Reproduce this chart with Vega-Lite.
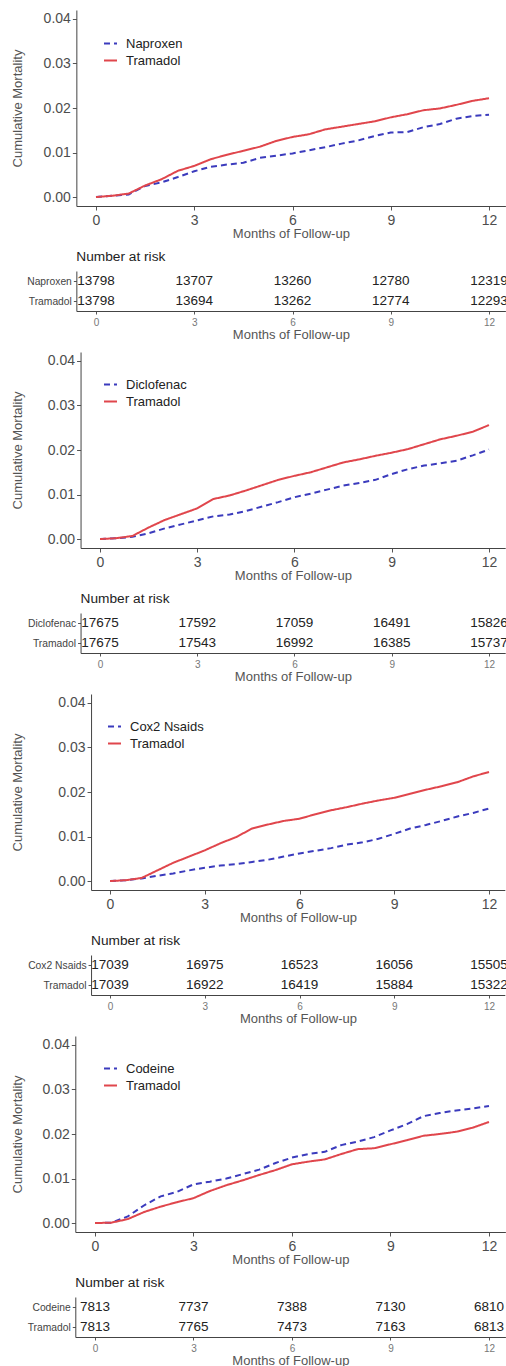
{
"$schema": "https://vega.github.io/schema/vega-lite/v6.json",
"padding": {"left": 10, "top": 10, "right": 0, "bottom": 0},
"spacing": 10,
"resolve": {"scale": {"color": "independent", "strokeDash": "independent"}},
"config": {
  "font": "Liberation Sans",
  "view": {"stroke": null},
  "axis": {"grid": false, "domainColor": "#444", "domainWidth": 1, "tickColor": "#555", "labelColor": "#4d4d4d", "titleColor": "#555", "titleFontWeight": "normal", "titleFontSize": 13, "labelFlush": false, "labelOverlap": false},
  "title": {"fontWeight": "normal", "fontSize": 13.7, "color": "#222", "anchor": "start", "frame": "group", "baseline": "bottom", "offset": 7},
  "legend": {"orient": "none", "title": null, "symbolType": "stroke", "symbolSize": 169, "symbolStrokeWidth": 2, "labelFontSize": 13, "labelColor": "#222", "labelOffset": 8, "rowPadding": 2, "padding": 0}
},
"datasets": {
  "curves": [
    {"p":1,"g":"Naproxen","t":0,"v":0},{"p":1,"g":"Naproxen","t":0.5,"v":0.0003},{"p":1,"g":"Naproxen","t":1,"v":0.0006},{"p":1,"g":"Naproxen","t":1.5,"v":0.0025},{"p":1,"g":"Naproxen","t":2,"v":0.0033},{"p":1,"g":"Naproxen","t":2.5,"v":0.0045},{"p":1,"g":"Naproxen","t":3,"v":0.0058},{"p":1,"g":"Naproxen","t":3.5,"v":0.0068},{"p":1,"g":"Naproxen","t":4,"v":0.0073},{"p":1,"g":"Naproxen","t":4.5,"v":0.0077},{"p":1,"g":"Naproxen","t":5,"v":0.0088},{"p":1,"g":"Naproxen","t":5.5,"v":0.0093},{"p":1,"g":"Naproxen","t":6,"v":0.0098},{"p":1,"g":"Naproxen","t":6.5,"v":0.0105},{"p":1,"g":"Naproxen","t":7,"v":0.0112},{"p":1,"g":"Naproxen","t":7.5,"v":0.012},{"p":1,"g":"Naproxen","t":8,"v":0.0127},{"p":1,"g":"Naproxen","t":8.5,"v":0.0137},{"p":1,"g":"Naproxen","t":9,"v":0.0145},{"p":1,"g":"Naproxen","t":9.5,"v":0.0146},{"p":1,"g":"Naproxen","t":10,"v":0.0157},{"p":1,"g":"Naproxen","t":10.5,"v":0.0164},{"p":1,"g":"Naproxen","t":11,"v":0.0176},{"p":1,"g":"Naproxen","t":11.5,"v":0.0182},{"p":1,"g":"Naproxen","t":12,"v":0.0185},
    {"p":1,"g":"Tramadol","t":0,"v":0},{"p":1,"g":"Tramadol","t":0.5,"v":0.0003},{"p":1,"g":"Tramadol","t":1,"v":0.0008},{"p":1,"g":"Tramadol","t":1.5,"v":0.0026},{"p":1,"g":"Tramadol","t":2,"v":0.004},{"p":1,"g":"Tramadol","t":2.5,"v":0.0059},{"p":1,"g":"Tramadol","t":3,"v":0.007},{"p":1,"g":"Tramadol","t":3.5,"v":0.0085},{"p":1,"g":"Tramadol","t":4,"v":0.0095},{"p":1,"g":"Tramadol","t":4.5,"v":0.0104},{"p":1,"g":"Tramadol","t":5,"v":0.0113},{"p":1,"g":"Tramadol","t":5.5,"v":0.0126},{"p":1,"g":"Tramadol","t":6,"v":0.0135},{"p":1,"g":"Tramadol","t":6.5,"v":0.0141},{"p":1,"g":"Tramadol","t":7,"v":0.0152},{"p":1,"g":"Tramadol","t":7.5,"v":0.0158},{"p":1,"g":"Tramadol","t":8,"v":0.0164},{"p":1,"g":"Tramadol","t":8.5,"v":0.017},{"p":1,"g":"Tramadol","t":9,"v":0.0179},{"p":1,"g":"Tramadol","t":9.5,"v":0.0186},{"p":1,"g":"Tramadol","t":10,"v":0.0195},{"p":1,"g":"Tramadol","t":10.5,"v":0.0199},{"p":1,"g":"Tramadol","t":11,"v":0.0207},{"p":1,"g":"Tramadol","t":11.5,"v":0.0216},{"p":1,"g":"Tramadol","t":12,"v":0.0222},
    {"p":2,"g":"Diclofenac","t":0,"v":0},{"p":2,"g":"Diclofenac","t":0.5,"v":0.0002},{"p":2,"g":"Diclofenac","t":1,"v":0.0005},{"p":2,"g":"Diclofenac","t":1.5,"v":0.0013},{"p":2,"g":"Diclofenac","t":2,"v":0.0024},{"p":2,"g":"Diclofenac","t":2.5,"v":0.0033},{"p":2,"g":"Diclofenac","t":3,"v":0.0042},{"p":2,"g":"Diclofenac","t":3.5,"v":0.0051},{"p":2,"g":"Diclofenac","t":4,"v":0.0055},{"p":2,"g":"Diclofenac","t":4.5,"v":0.0063},{"p":2,"g":"Diclofenac","t":5,"v":0.0073},{"p":2,"g":"Diclofenac","t":5.5,"v":0.0083},{"p":2,"g":"Diclofenac","t":6,"v":0.0094},{"p":2,"g":"Diclofenac","t":6.5,"v":0.0102},{"p":2,"g":"Diclofenac","t":7,"v":0.0111},{"p":2,"g":"Diclofenac","t":7.5,"v":0.012},{"p":2,"g":"Diclofenac","t":8,"v":0.0126},{"p":2,"g":"Diclofenac","t":8.5,"v":0.0133},{"p":2,"g":"Diclofenac","t":9,"v":0.0146},{"p":2,"g":"Diclofenac","t":9.5,"v":0.0157},{"p":2,"g":"Diclofenac","t":10,"v":0.0165},{"p":2,"g":"Diclofenac","t":10.5,"v":0.017},{"p":2,"g":"Diclofenac","t":11,"v":0.0176},{"p":2,"g":"Diclofenac","t":11.5,"v":0.0188},{"p":2,"g":"Diclofenac","t":12,"v":0.0201},
    {"p":2,"g":"Tramadol","t":0,"v":0},{"p":2,"g":"Tramadol","t":0.5,"v":0.0002},{"p":2,"g":"Tramadol","t":1,"v":0.0007},{"p":2,"g":"Tramadol","t":1.5,"v":0.0026},{"p":2,"g":"Tramadol","t":2,"v":0.0043},{"p":2,"g":"Tramadol","t":2.5,"v":0.0056},{"p":2,"g":"Tramadol","t":3,"v":0.0069},{"p":2,"g":"Tramadol","t":3.5,"v":0.009},{"p":2,"g":"Tramadol","t":4,"v":0.0098},{"p":2,"g":"Tramadol","t":4.5,"v":0.0109},{"p":2,"g":"Tramadol","t":5,"v":0.0121},{"p":2,"g":"Tramadol","t":5.5,"v":0.0133},{"p":2,"g":"Tramadol","t":6,"v":0.0142},{"p":2,"g":"Tramadol","t":6.5,"v":0.015},{"p":2,"g":"Tramadol","t":7,"v":0.0161},{"p":2,"g":"Tramadol","t":7.5,"v":0.0172},{"p":2,"g":"Tramadol","t":8,"v":0.0179},{"p":2,"g":"Tramadol","t":8.5,"v":0.0187},{"p":2,"g":"Tramadol","t":9,"v":0.0194},{"p":2,"g":"Tramadol","t":9.5,"v":0.0202},{"p":2,"g":"Tramadol","t":10,"v":0.0213},{"p":2,"g":"Tramadol","t":10.5,"v":0.0224},{"p":2,"g":"Tramadol","t":11,"v":0.0232},{"p":2,"g":"Tramadol","t":11.5,"v":0.0241},{"p":2,"g":"Tramadol","t":12,"v":0.0256},
    {"p":3,"g":"Cox2 Nsaids","t":0,"v":0},{"p":3,"g":"Cox2 Nsaids","t":0.5,"v":0.0002},{"p":3,"g":"Cox2 Nsaids","t":1,"v":0.0006},{"p":3,"g":"Cox2 Nsaids","t":1.5,"v":0.0012},{"p":3,"g":"Cox2 Nsaids","t":2,"v":0.0017},{"p":3,"g":"Cox2 Nsaids","t":2.5,"v":0.0024},{"p":3,"g":"Cox2 Nsaids","t":3,"v":0.003},{"p":3,"g":"Cox2 Nsaids","t":3.5,"v":0.0035},{"p":3,"g":"Cox2 Nsaids","t":4,"v":0.0038},{"p":3,"g":"Cox2 Nsaids","t":4.5,"v":0.0043},{"p":3,"g":"Cox2 Nsaids","t":5,"v":0.0048},{"p":3,"g":"Cox2 Nsaids","t":5.5,"v":0.0055},{"p":3,"g":"Cox2 Nsaids","t":6,"v":0.0062},{"p":3,"g":"Cox2 Nsaids","t":6.5,"v":0.0068},{"p":3,"g":"Cox2 Nsaids","t":7,"v":0.0074},{"p":3,"g":"Cox2 Nsaids","t":7.5,"v":0.0082},{"p":3,"g":"Cox2 Nsaids","t":8,"v":0.0087},{"p":3,"g":"Cox2 Nsaids","t":8.5,"v":0.0095},{"p":3,"g":"Cox2 Nsaids","t":9,"v":0.0106},{"p":3,"g":"Cox2 Nsaids","t":9.5,"v":0.0118},{"p":3,"g":"Cox2 Nsaids","t":10,"v":0.0126},{"p":3,"g":"Cox2 Nsaids","t":10.5,"v":0.0135},{"p":3,"g":"Cox2 Nsaids","t":11,"v":0.0145},{"p":3,"g":"Cox2 Nsaids","t":11.5,"v":0.0153},{"p":3,"g":"Cox2 Nsaids","t":12,"v":0.0163},
    {"p":3,"g":"Tramadol","t":0,"v":0},{"p":3,"g":"Tramadol","t":0.5,"v":0.0002},{"p":3,"g":"Tramadol","t":1,"v":0.0007},{"p":3,"g":"Tramadol","t":1.5,"v":0.0024},{"p":3,"g":"Tramadol","t":2,"v":0.0041},{"p":3,"g":"Tramadol","t":2.5,"v":0.0055},{"p":3,"g":"Tramadol","t":3,"v":0.0069},{"p":3,"g":"Tramadol","t":3.5,"v":0.0085},{"p":3,"g":"Tramadol","t":4,"v":0.0099},{"p":3,"g":"Tramadol","t":4.5,"v":0.0118},{"p":3,"g":"Tramadol","t":5,"v":0.0127},{"p":3,"g":"Tramadol","t":5.5,"v":0.0135},{"p":3,"g":"Tramadol","t":6,"v":0.014},{"p":3,"g":"Tramadol","t":6.5,"v":0.015},{"p":3,"g":"Tramadol","t":7,"v":0.0159},{"p":3,"g":"Tramadol","t":7.5,"v":0.0166},{"p":3,"g":"Tramadol","t":8,"v":0.0174},{"p":3,"g":"Tramadol","t":8.5,"v":0.0181},{"p":3,"g":"Tramadol","t":9,"v":0.0187},{"p":3,"g":"Tramadol","t":9.5,"v":0.0196},{"p":3,"g":"Tramadol","t":10,"v":0.0205},{"p":3,"g":"Tramadol","t":10.5,"v":0.0213},{"p":3,"g":"Tramadol","t":11,"v":0.0222},{"p":3,"g":"Tramadol","t":11.5,"v":0.0235},{"p":3,"g":"Tramadol","t":12,"v":0.0245},
    {"p":4,"g":"Codeine","t":0,"v":0},{"p":4,"g":"Codeine","t":0.5,"v":0.0001},{"p":4,"g":"Codeine","t":1,"v":0.0015},{"p":4,"g":"Codeine","t":1.5,"v":0.004},{"p":4,"g":"Codeine","t":2,"v":0.006},{"p":4,"g":"Codeine","t":2.5,"v":0.007},{"p":4,"g":"Codeine","t":3,"v":0.0087},{"p":4,"g":"Codeine","t":3.5,"v":0.0093},{"p":4,"g":"Codeine","t":4,"v":0.01},{"p":4,"g":"Codeine","t":4.5,"v":0.011},{"p":4,"g":"Codeine","t":5,"v":0.012},{"p":4,"g":"Codeine","t":5.5,"v":0.0135},{"p":4,"g":"Codeine","t":6,"v":0.0147},{"p":4,"g":"Codeine","t":6.5,"v":0.0155},{"p":4,"g":"Codeine","t":7,"v":0.016},{"p":4,"g":"Codeine","t":7.5,"v":0.0175},{"p":4,"g":"Codeine","t":8,"v":0.0183},{"p":4,"g":"Codeine","t":8.5,"v":0.0193},{"p":4,"g":"Codeine","t":9,"v":0.0208},{"p":4,"g":"Codeine","t":9.5,"v":0.0222},{"p":4,"g":"Codeine","t":10,"v":0.024},{"p":4,"g":"Codeine","t":10.5,"v":0.0247},{"p":4,"g":"Codeine","t":11,"v":0.0253},{"p":4,"g":"Codeine","t":11.5,"v":0.0257},{"p":4,"g":"Codeine","t":12,"v":0.0263},
    {"p":4,"g":"Tramadol","t":0,"v":0},{"p":4,"g":"Tramadol","t":0.5,"v":0.0001},{"p":4,"g":"Tramadol","t":1,"v":0.0009},{"p":4,"g":"Tramadol","t":1.5,"v":0.0025},{"p":4,"g":"Tramadol","t":2,"v":0.0037},{"p":4,"g":"Tramadol","t":2.5,"v":0.0047},{"p":4,"g":"Tramadol","t":3,"v":0.0056},{"p":4,"g":"Tramadol","t":3.5,"v":0.0072},{"p":4,"g":"Tramadol","t":4,"v":0.0085},{"p":4,"g":"Tramadol","t":4.5,"v":0.0096},{"p":4,"g":"Tramadol","t":5,"v":0.0108},{"p":4,"g":"Tramadol","t":5.5,"v":0.0119},{"p":4,"g":"Tramadol","t":6,"v":0.0132},{"p":4,"g":"Tramadol","t":6.5,"v":0.0138},{"p":4,"g":"Tramadol","t":7,"v":0.0143},{"p":4,"g":"Tramadol","t":7.5,"v":0.0155},{"p":4,"g":"Tramadol","t":8,"v":0.0166},{"p":4,"g":"Tramadol","t":8.5,"v":0.0168},{"p":4,"g":"Tramadol","t":9,"v":0.0177},{"p":4,"g":"Tramadol","t":9.5,"v":0.0186},{"p":4,"g":"Tramadol","t":10,"v":0.0196},{"p":4,"g":"Tramadol","t":10.5,"v":0.02},{"p":4,"g":"Tramadol","t":11,"v":0.0205},{"p":4,"g":"Tramadol","t":11.5,"v":0.0214},{"p":4,"g":"Tramadol","t":12,"v":0.0227}
  ],
  "risk": [
    {"p":1,"g":"Naproxen","t":0,"n":13798},{"p":1,"g":"Naproxen","t":3,"n":13707},{"p":1,"g":"Naproxen","t":6,"n":13260},{"p":1,"g":"Naproxen","t":9,"n":12780},{"p":1,"g":"Naproxen","t":12,"n":12319},
    {"p":1,"g":"Tramadol","t":0,"n":13798},{"p":1,"g":"Tramadol","t":3,"n":13694},{"p":1,"g":"Tramadol","t":6,"n":13262},{"p":1,"g":"Tramadol","t":9,"n":12774},{"p":1,"g":"Tramadol","t":12,"n":12293},
    {"p":2,"g":"Diclofenac","t":0,"n":17675},{"p":2,"g":"Diclofenac","t":3,"n":17592},{"p":2,"g":"Diclofenac","t":6,"n":17059},{"p":2,"g":"Diclofenac","t":9,"n":16491},{"p":2,"g":"Diclofenac","t":12,"n":15826},
    {"p":2,"g":"Tramadol","t":0,"n":17675},{"p":2,"g":"Tramadol","t":3,"n":17543},{"p":2,"g":"Tramadol","t":6,"n":16992},{"p":2,"g":"Tramadol","t":9,"n":16385},{"p":2,"g":"Tramadol","t":12,"n":15737},
    {"p":3,"g":"Cox2 Nsaids","t":0,"n":17039},{"p":3,"g":"Cox2 Nsaids","t":3,"n":16975},{"p":3,"g":"Cox2 Nsaids","t":6,"n":16523},{"p":3,"g":"Cox2 Nsaids","t":9,"n":16056},{"p":3,"g":"Cox2 Nsaids","t":12,"n":15505},
    {"p":3,"g":"Tramadol","t":0,"n":17039},{"p":3,"g":"Tramadol","t":3,"n":16922},{"p":3,"g":"Tramadol","t":6,"n":16419},{"p":3,"g":"Tramadol","t":9,"n":15884},{"p":3,"g":"Tramadol","t":12,"n":15322},
    {"p":4,"g":"Codeine","t":0,"n":7813},{"p":4,"g":"Codeine","t":3,"n":7737},{"p":4,"g":"Codeine","t":6,"n":7388},{"p":4,"g":"Codeine","t":9,"n":7130},{"p":4,"g":"Codeine","t":12,"n":6810},
    {"p":4,"g":"Tramadol","t":0,"n":7813},{"p":4,"g":"Tramadol","t":3,"n":7765},{"p":4,"g":"Tramadol","t":6,"n":7473},{"p":4,"g":"Tramadol","t":9,"n":7163},{"p":4,"g":"Tramadol","t":12,"n":6813}
  ]
},
"vconcat": [
  {
    "width": 431, "height": 196,
    "data": {"name": "curves"}, "transform": [{"filter": "datum.p == 1"}],
    "mark": {"type": "line", "strokeWidth": 2},
    "encoding": {
      "x": {"field": "t", "type": "quantitative", "scale": {"domain": [-0.6, 12.5], "range": [1.35, 430.4], "nice": false, "zero": false}, "axis": {"values": [0,3,6,9,12], "title": "Months of Follow-up", "labelFontSize": 14, "tickSize": 4, "labelPadding": 3, "titlePadding": 0}},
      "y": {"field": "v", "type": "quantitative", "scale": {"domain": [-0.002, 0.042], "nice": false, "zero": false}, "axis": {"values": [0,0.01,0.02,0.03,0.04], "format": ".2f", "title": "Cumulative Mortality", "offset": -1.35, "labelFontSize": 14, "tickSize": 4, "labelPadding": 2, "titleX": -52.35, "titleY": 98, "titleAngle": 270, "titleAlign": "center", "titleBaseline": "bottom"}},
      "color": {"field": "g", "type": "nominal", "scale": {"domain": ["Naproxen","Tramadol"], "range": ["#3b3bbd","#e0464c"]}, "legend": {"legendX": 28, "legendY": 26}},
      "strokeDash": {"field": "g", "type": "nominal", "scale": {"domain": ["Naproxen","Tramadol"], "range": [[6,4],[1,0]]}, "legend": {"legendX": 28, "legendY": 26}}
    }
  },
  {
    "width": 431, "height": 40,
    "title": {"text": "Number at risk", "dx": 1.35},
    "data": {"name": "risk"}, "transform": [{"filter": "datum.p == 1"}],
    "mark": {"type": "text", "fontSize": 13.5, "color": "#222", "baseline": "middle", "align": "center"},
    "encoding": {
      "x": {"field": "t", "type": "quantitative", "scale": {"domain": [-0.6, 12.5], "range": [1.35, 430.4], "nice": false, "zero": false}, "axis": {"values": [0,3,6,9,12], "title": "Months of Follow-up", "labelFontSize": 10, "labelColor": "#777", "tickSize": 3, "labelPadding": 3, "titlePadding": 1.5}},
      "y": {"field": "g", "type": "ordinal", "sort": ["Naproxen","Tramadol"], "scale": {"type": "point", "padding": 0.5}, "axis": {"title": null, "offset": -1.35, "labelFontSize": 10.3, "labelColor": "#444", "tickSize": 3, "labelPadding": 2}},
      "text": {"field": "n", "type": "quantitative", "format": "d"}
    }
  },
  {
    "width": 431, "height": 196,
    "data": {"name": "curves"}, "transform": [{"filter": "datum.p == 2"}],
    "mark": {"type": "line", "strokeWidth": 2},
    "encoding": {
      "x": {"field": "t", "type": "quantitative", "scale": {"domain": [-0.6, 12.5], "range": [5.55, 430.2], "nice": false, "zero": false}, "axis": {"values": [0,3,6,9,12], "title": "Months of Follow-up", "labelFontSize": 14, "tickSize": 4, "labelPadding": 3, "titlePadding": 0}},
      "y": {"field": "v", "type": "quantitative", "scale": {"domain": [-0.002, 0.042], "nice": false, "zero": false}, "axis": {"values": [0,0.01,0.02,0.03,0.04], "format": ".2f", "title": "Cumulative Mortality", "offset": -5.55, "labelFontSize": 14, "tickSize": 4, "labelPadding": 2, "titleX": -56.55, "titleY": 98, "titleAngle": 270, "titleAlign": "center", "titleBaseline": "bottom"}},
      "color": {"field": "g", "type": "nominal", "scale": {"domain": ["Diclofenac","Tramadol"], "range": ["#3b3bbd","#e0464c"]}, "legend": {"legendX": 28, "legendY": 25}},
      "strokeDash": {"field": "g", "type": "nominal", "scale": {"domain": ["Diclofenac","Tramadol"], "range": [[6,4],[1,0]]}, "legend": {"legendX": 28, "legendY": 25}}
    }
  },
  {
    "width": 431, "height": 40,
    "title": {"text": "Number at risk", "dx": 5.55},
    "data": {"name": "risk"}, "transform": [{"filter": "datum.p == 2"}],
    "mark": {"type": "text", "fontSize": 13.5, "color": "#222", "baseline": "middle", "align": "center"},
    "encoding": {
      "x": {"field": "t", "type": "quantitative", "scale": {"domain": [-0.6, 12.5], "range": [5.55, 430.2], "nice": false, "zero": false}, "axis": {"values": [0,3,6,9,12], "title": "Months of Follow-up", "labelFontSize": 10, "labelColor": "#777", "tickSize": 3, "labelPadding": 3, "titlePadding": 1.5}},
      "y": {"field": "g", "type": "ordinal", "sort": ["Diclofenac","Tramadol"], "scale": {"type": "point", "padding": 0.5}, "axis": {"title": null, "offset": -5.55, "labelFontSize": 10.3, "labelColor": "#444", "tickSize": 3, "labelPadding": 2}},
      "text": {"field": "n", "type": "quantitative", "format": "d"}
    }
  },
  {
    "width": 431, "height": 196,
    "data": {"name": "curves"}, "transform": [{"filter": "datum.p == 3"}],
    "mark": {"type": "line", "strokeWidth": 2},
    "encoding": {
      "x": {"field": "t", "type": "quantitative", "scale": {"domain": [-0.6, 12.5], "range": [16.05, 429.8], "nice": false, "zero": false}, "axis": {"values": [0,3,6,9,12], "title": "Months of Follow-up", "labelFontSize": 14, "tickSize": 4, "labelPadding": 3, "titlePadding": 0}},
      "y": {"field": "v", "type": "quantitative", "scale": {"domain": [-0.002, 0.042], "nice": false, "zero": false}, "axis": {"values": [0,0.01,0.02,0.03,0.04], "format": ".2f", "title": "Cumulative Mortality", "offset": -16.05, "labelFontSize": 14, "tickSize": 4, "labelPadding": 2, "titleX": -67.05, "titleY": 98, "titleAngle": 270, "titleAlign": "center", "titleBaseline": "bottom"}},
      "color": {"field": "g", "type": "nominal", "scale": {"domain": ["Cox2 Nsaids","Tramadol"], "range": ["#3b3bbd","#e0464c"]}, "legend": {"legendX": 32, "legendY": 25}},
      "strokeDash": {"field": "g", "type": "nominal", "scale": {"domain": ["Cox2 Nsaids","Tramadol"], "range": [[6,4],[1,0]]}, "legend": {"legendX": 32, "legendY": 25}}
    }
  },
  {
    "width": 431, "height": 40,
    "title": {"text": "Number at risk", "dx": 16.05},
    "data": {"name": "risk"}, "transform": [{"filter": "datum.p == 3"}],
    "mark": {"type": "text", "fontSize": 13.5, "color": "#222", "baseline": "middle", "align": "center"},
    "encoding": {
      "x": {"field": "t", "type": "quantitative", "scale": {"domain": [-0.6, 12.5], "range": [16.05, 429.8], "nice": false, "zero": false}, "axis": {"values": [0,3,6,9,12], "title": "Months of Follow-up", "labelFontSize": 10, "labelColor": "#777", "tickSize": 3, "labelPadding": 3, "titlePadding": 1.5}},
      "y": {"field": "g", "type": "ordinal", "sort": ["Cox2 Nsaids","Tramadol"], "scale": {"type": "point", "padding": 0.5}, "axis": {"title": null, "offset": -16.05, "labelFontSize": 10.3, "labelColor": "#444", "tickSize": 3, "labelPadding": 2}},
      "text": {"field": "n", "type": "quantitative", "format": "d"}
    }
  },
  {
    "width": 431, "height": 196,
    "data": {"name": "curves"}, "transform": [{"filter": "datum.p == 4"}],
    "mark": {"type": "line", "strokeWidth": 2},
    "encoding": {
      "x": {"field": "t", "type": "quantitative", "scale": {"domain": [-0.6, 12.5], "range": [0.3, 430.4], "nice": false, "zero": false}, "axis": {"values": [0,3,6,9,12], "title": "Months of Follow-up", "labelFontSize": 14, "tickSize": 4, "labelPadding": 3, "titlePadding": 0}},
      "y": {"field": "v", "type": "quantitative", "scale": {"domain": [-0.002, 0.042], "nice": false, "zero": false}, "axis": {"values": [0,0.01,0.02,0.03,0.04], "format": ".2f", "title": "Cumulative Mortality", "offset": -0.3, "labelFontSize": 14, "tickSize": 4, "labelPadding": 2, "titleX": -51.3, "titleY": 98, "titleAngle": 270, "titleAlign": "center", "titleBaseline": "bottom"}},
      "color": {"field": "g", "type": "nominal", "scale": {"domain": ["Codeine","Tramadol"], "range": ["#3b3bbd","#e0464c"]}, "legend": {"legendX": 28, "legendY": 25}},
      "strokeDash": {"field": "g", "type": "nominal", "scale": {"domain": ["Codeine","Tramadol"], "range": [[6,4],[1,0]]}, "legend": {"legendX": 28, "legendY": 25}}
    }
  },
  {
    "width": 431, "height": 40,
    "title": {"text": "Number at risk", "dx": 0.3},
    "data": {"name": "risk"}, "transform": [{"filter": "datum.p == 4"}],
    "mark": {"type": "text", "fontSize": 13.5, "color": "#222", "baseline": "middle", "align": "center"},
    "encoding": {
      "x": {"field": "t", "type": "quantitative", "scale": {"domain": [-0.6, 12.5], "range": [0.3, 430.4], "nice": false, "zero": false}, "axis": {"values": [0,3,6,9,12], "title": "Months of Follow-up", "labelFontSize": 10, "labelColor": "#777", "tickSize": 3, "labelPadding": 3, "titlePadding": 1.5}},
      "y": {"field": "g", "type": "ordinal", "sort": ["Codeine","Tramadol"], "scale": {"type": "point", "padding": 0.5}, "axis": {"title": null, "offset": -0.3, "labelFontSize": 10.3, "labelColor": "#444", "tickSize": 3, "labelPadding": 2}},
      "text": {"field": "n", "type": "quantitative", "format": "d"}
    }
  }
]
}
